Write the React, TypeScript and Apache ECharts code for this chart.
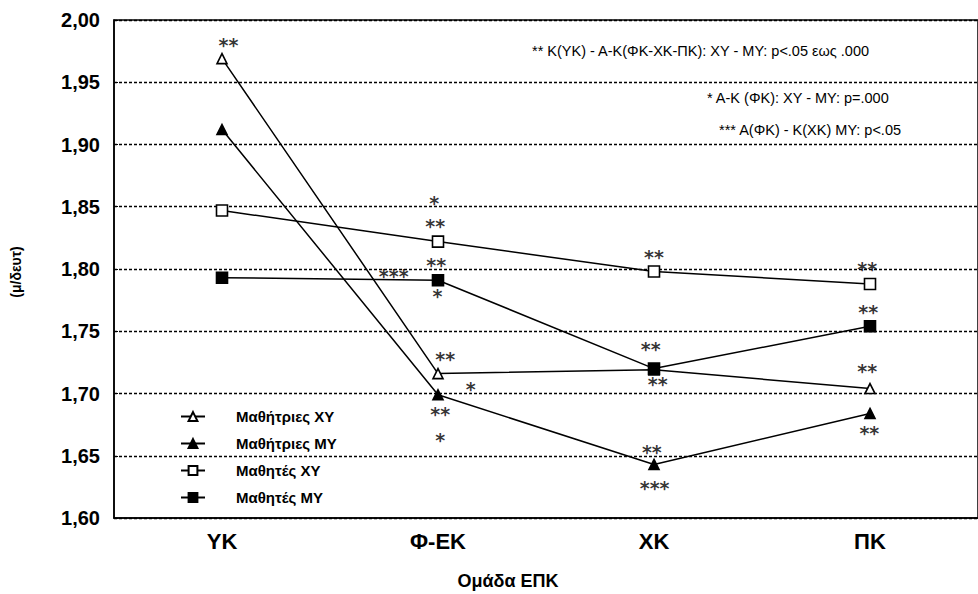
import React, { useEffect, useRef } from "react";
import * as echarts from "echarts";

const categories = ["ΥΚ", "Φ-ΕΚ", "ΧΚ", "ΠΚ"];
const seriesNames = ["Μαθήτριες ΧΥ", "Μαθήτριες ΜΥ", "Μαθητές ΧΥ", "Μαθητές ΜΥ"];
const girlsXY = [1.969, 1.716, 1.719, 1.704];
const girlsMY = [1.912, 1.699, 1.643, 1.684];
const boysXY = [1.847, 1.822, 1.798, 1.788];
const boysMY = [1.793, 1.791, 1.72, 1.754];
const yTicks = { min: 1.6, max: 2.0, interval: 0.05 };

// significance marks: [x position on category scale, value, text]
const marks: [number, number, string][] = [
  [0.03, 1.9815, "**"],
  [0.983, 1.8546, "*"],
  [0.987, 1.8361, "**"],
  [0.992, 1.8048, "**"],
  [0.795, 1.796, "***"],
  [0.997, 1.78, "*"],
  [1.033, 1.729, "**"],
  [1.152, 1.705, "*"],
  [1.01, 1.6855, "**"],
  [1.01, 1.6645, "*"],
  [2.0, 1.811, "**"],
  [1.985, 1.737, "**"],
  [2.017, 1.709, "**"],
  [1.99, 1.655, "**"],
  [2.003, 1.626, "***"],
  [2.987, 1.802, "**"],
  [2.992, 1.767, "**"],
  [2.987, 1.72, "**"],
  [2.997, 1.67, "**"],
];

const notes = [
  "** Κ(ΥΚ) - Α-Κ(ΦΚ-ΧΚ-ΠΚ): ΧΥ - ΜΥ: p<.05 εως .000",
  "* Α-Κ (ΦΚ): ΧΥ - ΜΥ: p=.000",
  "*** Α(ΦΚ) - Κ(ΧΚ) ΜΥ: p<.05",
];
const xAxisTitle = "Ομάδα ΕΠΚ";
const yAxisTitle = "(μ/δευτ)";

const NARROW = "'Liberation Sans Narrow', 'Liberation Sans', Arial, sans-serif";

export default function App() {
  const ref = useRef<HTMLDivElement>(null);
  useEffect(() => {
    document.body.style.margin = "0";
    if (!ref.current) return;
    const chart = echarts.init(ref.current, null, { renderer: "svg" });
    const mk = (name: string, data: number[], symbol: string, filled: boolean, size: number) => ({
      name,
      type: "line",
      data,
      symbol,
      symbolSize: size,
      showSymbol: true,
      lineStyle: { color: "#000", width: 1.5 },
      itemStyle: { color: filled ? "#000" : "#fff", borderColor: "#000", borderWidth: 1.6 },
      z: 3,
    });
    chart.setOption({
      animation: false,
      backgroundColor: "#fff",
      grid: {
        left: 114,
        right: -10,
        top: 20,
        bottom: 76,
        show: true,
        borderColor: "#000",
        borderWidth: 1.5,
        backgroundColor: "transparent",
      },
      legend: {
        orient: "vertical",
        left: 175,
        top: 404,
        itemWidth: 24,
        itemHeight: 11,
        itemGap: 12,
        data: seriesNames,
        textStyle: {
          fontFamily: NARROW,
          fontWeight: "bold",
          fontSize: 15,
          color: "#000",
          padding: [0, 0, 0, 26],
        },
      },
      xAxis: [
        {
          type: "category",
          data: categories,
          boundaryGap: true,
          axisLine: { lineStyle: { color: "#000", width: 1.5 } },
          axisTick: { inside: true, length: 4, lineStyle: { color: "#000" } },
          axisLabel: {
            margin: 12,
            fontFamily: NARROW,
            fontWeight: "bold",
            fontSize: 22,
            color: "#000",
          },
          splitLine: { show: false },
        },
        {
          type: "value",
          min: -0.5,
          max: 3.5,
          show: false,
        },
      ],
      yAxis: {
        type: "value",
        min: yTicks.min,
        max: yTicks.max,
        interval: yTicks.interval,
        axisLine: { show: true, onZero: false, lineStyle: { color: "#000", width: 1.5 } },
        axisTick: { show: true, inside: true, length: 4, lineStyle: { color: "#000" } },
        axisLabel: {
          margin: 14,
          fontFamily: "'Liberation Sans', Arial, sans-serif",
          fontWeight: "bold",
          fontSize: 20,
          color: "#000",
          formatter: (v: number) => v.toFixed(2).replace(".", ","),
        },
        splitLine: { show: true, lineStyle: { color: "#000", type: [3, 2], width: 1.4 } },
      },
      series: [
        mk(seriesNames[0], girlsXY, "triangle", false, 10),
        mk(seriesNames[1], girlsMY, "triangle", true, 10),
        mk(seriesNames[2], boysXY, "rect", false, 11),
        mk(seriesNames[3], boysMY, "rect", true, 11),
        {
          type: "scatter",
          xAxisIndex: 1,
          data: marks,
          symbol: "circle",
          symbolSize: 1,
          itemStyle: { color: "rgba(0,0,0,0)" },
          silent: true,
          z: 5,
          label: {
            show: true,
            position: "inside",
            offset: [0, 2],
            formatter: (p: any) => p.data[2],
            fontFamily: "'DejaVu Sans', sans-serif",
            fontWeight: "bold",
            fontSize: 19,
            lineHeight: 14,
            color: "#000",
            textBorderWidth: 0,
          },
        },
      ],
      graphic: [
        {
          type: "text",
          left: 532,
          top: 43,
          style: { text: notes[0], fontFamily: NARROW, fontSize: 14.5, fill: "#000" },
        },
        {
          type: "text",
          left: 707,
          top: 90,
          style: { text: notes[1], fontFamily: NARROW, fontSize: 14.5, fill: "#000" },
        },
        {
          type: "text",
          left: 719,
          top: 122,
          style: { text: notes[2], fontFamily: NARROW, fontSize: 14.5, fill: "#000" },
        },
        {
          type: "text",
          x: 508,
          y: 581,
          style: {
            text: xAxisTitle,
            fontFamily: NARROW,
            fontWeight: "bold",
            fontSize: 18,
            fill: "#000",
            align: "center",
            verticalAlign: "middle",
          },
        },
        {
          type: "text",
          x: 16,
          y: 272,
          rotation: Math.PI / 2,
          style: {
            text: yAxisTitle,
            fontFamily: NARROW,
            fontWeight: "bold",
            fontSize: 14,
            fill: "#000",
            align: "center",
            verticalAlign: "middle",
          },
        },
      ],
    });
    return () => chart.dispose();
  }, []);
  return <div ref={ref} style={{ width: 978, height: 594 }} />;
}
